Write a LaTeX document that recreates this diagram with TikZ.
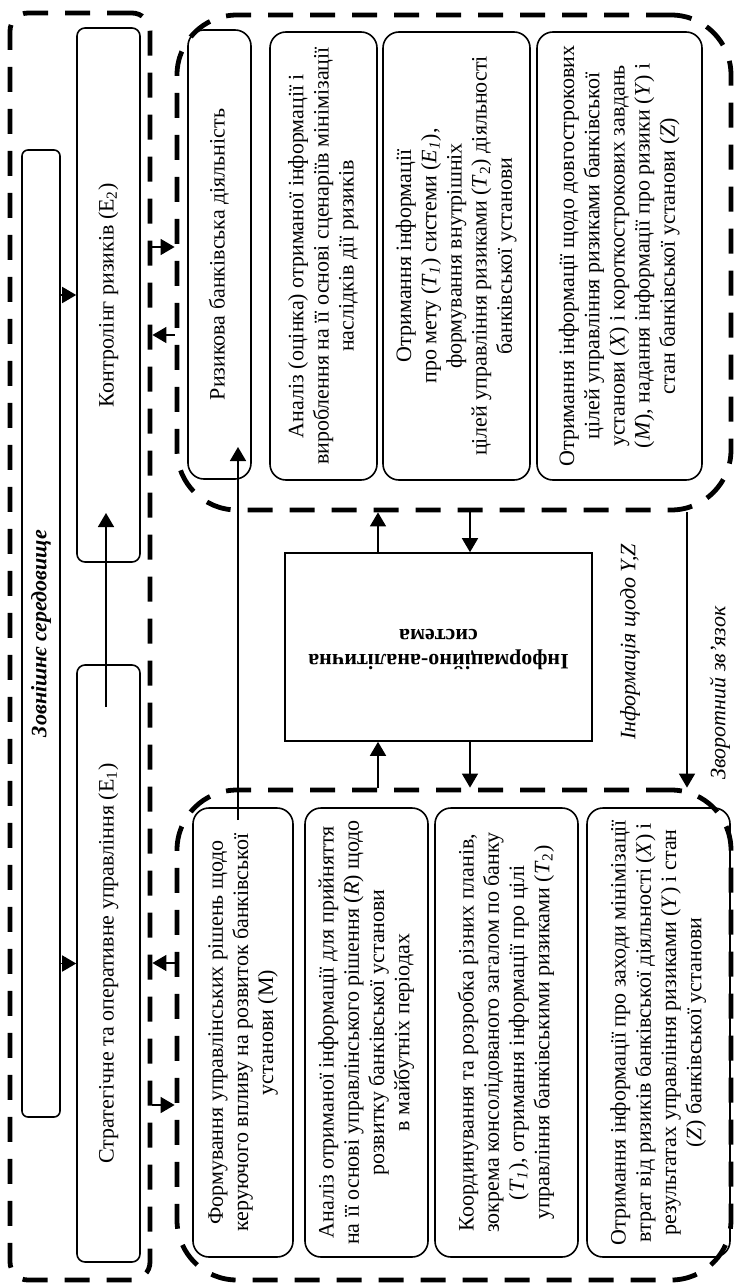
\documentclass[tikz,border=0pt]{standalone}
\usepackage{fontspec}
\setmainfont{Liberation Serif}
\usepackage{graphicx}
\usetikzlibrary{arrows.meta}

\newcommand{\vtext}[1]{\rotatebox{90}{\begin{tabular}{@{}c@{}}#1\end{tabular}}}
\newcommand{\fliptext}[1]{\rotatebox{180}{\begin{tabular}{@{}c@{}}#1\end{tabular}}}

\begin{document}
\begin{tikzpicture}[x=0.5pt,y=-0.5pt,
  every node/.style={font=\fontsize{11}{12.6}\selectfont, inner sep=2pt},
  box/.style={draw, line width=0.8pt, rounded corners=8pt},
  thinbox/.style={draw, line width=0.8pt, rounded corners=4pt},
  group/.style={draw, line width=2.4pt, dash pattern=on 12.5pt off 8.5pt, inner sep=0pt},
  arr/.style={-{Triangle[length=7pt,width=8pt]}, line width=0.8pt},
  note/.style={font=\fontsize{11}{12.6}\selectfont\itshape}
  ]
  \useasboundingbox (0,0) rectangle (736,1285);

  % dashed groups
  \node[group, rounded corners=9pt, minimum width=70pt, minimum height=633.5pt] (leftgrp) at (80,646.5) {};
  \node[group, rounded corners=30pt, minimum width=277pt, minimum height=247.5pt] (topgrp) at (454,262.5) {};
  \node[group, rounded corners=30pt, minimum width=277pt, minimum height=245pt] (botgrp) at (454,1035) {};

  % left part
  \node[thinbox, rounded corners=3pt, minimum width=19pt, minimum height=483.5pt] (env) at (41,633.5)
    {\rotatebox{90}{\textbf{\textit{Зовнішнє середовище}}}};
  \node[thinbox, minimum width=31.5pt, minimum height=267pt] (ctrl) at (108.5,295)
    {\vtext{Контролінг ризиків (E\textsubscript{2})}};
  \node[thinbox, minimum width=31.5pt, minimum height=298.5pt] (strat) at (108.5,963.5)
    {\vtext{Стратегічне та оперативне управління (E\textsubscript{1})}};

  % top group
  \node[box, minimum width=31.5pt, minimum height=224.5pt] (risk) at (219.5,254.5)
    {\vtext{Ризикова банківська діяльність}};
  \node[box, minimum width=53.5pt, minimum height=224pt] (anal) at (323.5,256)
    {\vtext{Аналіз (оцінка) отриманої інформації і\\
            вироблення на її основі сценаріїв мінімізації\\
            наслідків дії ризиків}};
  \node[box, minimum width=73.5pt, minimum height=224pt] (goal) at (456.5,256)
    {\vtext{Отримання інформації\\
            про мету (\textit{T}\textsubscript{\textit{1}}) системи (\textit{E}\textsubscript{\textit{1}}),\\
            формування внутрішніх\\
            цілей управління ризиками (\textit{T}\textsubscript{2}) діяльності\\
            банківської установи}};
  \node[box, minimum width=82.5pt, minimum height=224pt] (long) at (619.5,256)
    {\vtext{Отримання інформації щодо довгострокових\\
            цілей  управління ризиками банківської\\
            установи (\textit{X}) і короткострокових завдань\\
            (\textit{M}), надання інформації про ризики (\textit{Y}) і\\
            стан банківської установи (\textit{Z})}};

  % bottom group
  \node[box, minimum width=50pt, minimum height=224.5pt] (form) at (243,1032.5)
    {\vtext{Формування управлінських рішень щодо\\
            керуючого впливу на розвиток банківської\\
            установи (М)}};
  \node[box, minimum width=61.5pt, minimum height=224.5pt] (dec) at (366.5,1032.5)
    {\vtext{Аналіз отриманої інформації для прийняття\\
            на її основі управлінського рішення (\textit{R}) щодо\\
            розвитку банківської установи\\
            в майбутніх періодах}};
  \node[box, minimum width=71.5pt, minimum height=224.5pt] (coord) at (506.5,1032.5)
    {\vtext{Координування та розробка різних планів,\\
            зокрема консолідованого загалом по банку\\
            (\textit{T}\textsubscript{\textit{1}}), отримання інформації про цілі\\
            управління банківськими ризиками (\textit{T}\textsubscript{2})}};
  \node[box, minimum width=71.5pt, minimum height=224.5pt] (loss) at (658.5,1032.5)
    {\vtext{Отримання інформації про заходи мінімізації\\
            втрат від ризиків банківської діяльності (\textit{X}) і\\
            результатах управління ризиками (\textit{Y}) і стан\\
            (\textit{Z}) банківської установи}};

  % centre
  \node[draw, line width=0.8pt, minimum width=153.5pt, minimum height=94pt] (ias) at (438.5,647)
    {\fliptext{\textbf{Інформаційно-аналітична}\\ \textbf{система}}};
  \node[note] (info) at (630,642) {\rotatebox{90}{Інформація щодо Y,Z}};
  \node[note] (fback) at (720,693) {\rotatebox{90}{Зворотний зв’язок}};

  % helper points
  \coordinate (lvl1) at (0,247);
  \coordinate (lvl2) at (0,335);
  \coordinate (lvl3) at (0,963);
  \coordinate (lvl4) at (0,1105);
  \coordinate (upx) at (378,0);
  \coordinate (dnx) at (470,0);
  \coordinate (fbx) at (687,0);
  \coordinate (s1) at (106,707);
  \coordinate (c1) at (106,513);
  \coordinate (f1) at (238,820);
  \coordinate (r1) at (238,447);

  % arrows
  \draw[arr] (env.east |- ctrl) -- (ctrl.west);
  \draw[arr] (env.east |- strat) -- (strat.west);
  \draw[arr] (s1) -- (c1);
  \draw[arr] (leftgrp.east |- lvl1) -- (topgrp.west |- lvl1);
  \draw[arr] (topgrp.west |- lvl2) -- (leftgrp.east |- lvl2);
  \draw[arr] (botgrp.west |- lvl3) -- (leftgrp.east |- lvl3);
  \draw[arr] (leftgrp.east |- lvl4) -- (botgrp.west |- lvl4);
  \draw[arr] (ias.north -| upx) -- (topgrp.south -| upx);
  \draw[arr] (botgrp.north -| upx) -- (ias.south -| upx);
  \draw[arr] (topgrp.south -| dnx) -- (ias.north -| dnx);
  \draw[arr] (ias.south -| dnx) -- (botgrp.north -| dnx);
  \draw[arr] (f1) -- (r1);
  \draw[arr] (topgrp.south -| fbx) -- (botgrp.north -| fbx);
\end{tikzpicture}
\end{document}
